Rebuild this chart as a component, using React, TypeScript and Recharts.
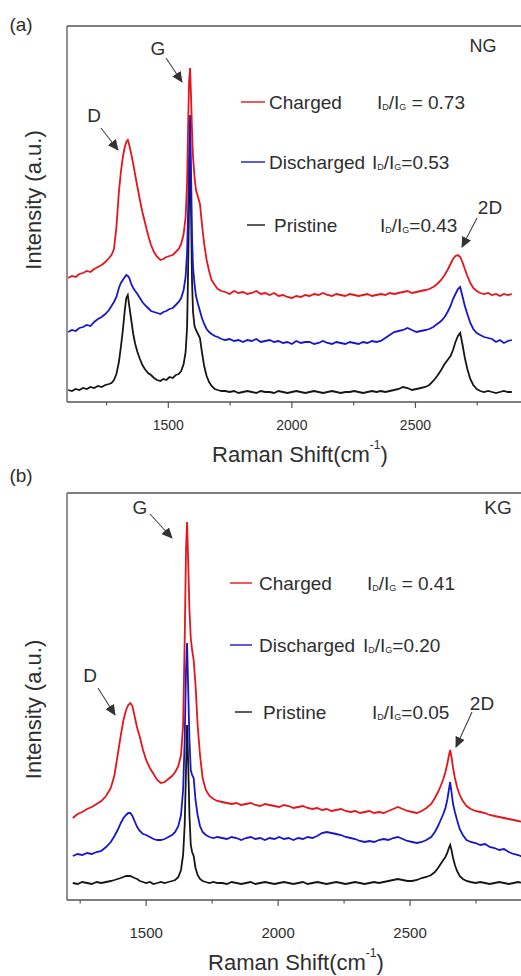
import React from "react";
import { LineChart, Line, XAxis, YAxis, Legend } from "recharts";

// (a) NG: Raman shift (cm-1) and intensities (a.u.)
const shiftA = [
  1095, 1110, 1125, 1140, 1155, 1170, 1185, 1200, 1215, 1230, 1245, 1260,
  1270, 1280, 1290, 1300, 1308, 1316, 1324, 1330, 1336, 1342, 1350, 1358,
  1366, 1375, 1385, 1395, 1405, 1418, 1430, 1442, 1455, 1468, 1480, 1492,
  1505, 1518, 1530, 1542, 1552, 1562, 1570, 1576, 1580, 1584, 1588, 1592,
  1596, 1600, 1606, 1612, 1620, 1628, 1636, 1645, 1655, 1665, 1675, 1688,
  1700, 1715,
  1730, 1748, 1766, 1784, 1802, 1820, 1838, 1856, 1874, 1892, 1910, 1928,
  1946, 1964, 1982, 2000, 2018, 2036, 2054, 2072, 2090, 2108, 2126, 2144,
  2162, 2180, 2198, 2216, 2234, 2252, 2270, 2288, 2306, 2324, 2342, 2360,
  2378, 2396, 2414, 2432, 2450, 2468, 2486, 2504, 2522,
  2540, 2556, 2572, 2588, 2604, 2618, 2630, 2642, 2652, 2662, 2672, 2681,
  2690, 2700, 2710, 2722, 2734, 2748, 2762, 2778, 2794, 2810, 2826, 2842,
  2858, 2874, 2890,
];
const chargedA = [
  124, 126, 125, 128, 129, 131, 130, 133, 135, 137, 140, 144,
  147, 153, 175, 210, 230, 245, 255, 260, 262, 257, 248, 238,
  227, 215, 202, 190, 180, 167, 157, 150, 145, 142, 143, 145,
  146, 147, 150, 153, 158, 168, 185, 220, 275, 320, 334, 305,
  270, 245, 225, 212, 205, 198, 178, 158, 142, 131, 122, 117,
  113, 111,
  110, 108, 111, 109, 110, 108, 109, 111, 108, 109, 107, 109,
  106, 107, 105, 104, 106, 105, 107, 106, 108, 107, 109, 107,
  106, 108, 107, 106, 108, 107, 106, 107, 108, 106, 107, 108,
  107, 109, 108, 109, 110, 111, 109, 110, 111,
  112, 113, 115, 118, 122, 127, 132, 138, 143, 146, 147, 145,
  140, 133, 126, 119, 114, 111, 109, 108, 109, 107, 108, 106,
  108, 107, 108,
];
const dischargedA = [
  70, 72, 71, 74, 75, 77, 76, 80, 83, 85, 88, 92,
  96, 100, 105, 114, 119, 122, 125, 127, 126, 124, 118, 114,
  111, 108, 104, 100, 97, 94, 91, 90, 89, 88, 90, 91,
  93, 94, 97, 100, 104, 112, 125, 150, 190, 250, 287, 230,
  165, 135, 118, 106, 98, 91, 84, 78, 73, 70, 68, 66,
  65, 63,
  62, 63, 61, 62, 60, 62, 61, 63, 60, 61, 62, 60,
  61, 59, 60, 58, 61, 59, 60, 60, 58, 59, 61, 59,
  58, 60, 59, 58, 60, 59, 58, 60, 59, 61, 60, 61,
  64, 67, 70, 71, 72, 74, 72, 70, 71,
  72, 73, 75, 78, 81, 85, 90, 96, 103, 108, 113, 115,
  106, 96, 88, 79, 73, 69, 67, 65, 64, 63, 60, 62,
  59, 61, 62,
];
const pristineA = [
  12, 11, 13, 12, 14, 13, 15, 14, 16, 15, 17, 18,
  19, 22, 28, 40, 55, 72, 92, 104, 107, 96, 82, 68,
  58, 50, 43, 37, 33, 29, 27, 24, 22, 21, 23, 22,
  25, 24, 27, 28, 31, 38, 50, 75, 130, 200, 252, 190,
  120, 90, 76, 72, 68, 64, 50, 36, 26, 20, 16, 13,
  12, 11,
  11, 10, 11, 9, 10, 11, 10, 9, 11, 10, 10, 9,
  11, 10, 9, 10, 11, 10, 9, 10, 11, 10, 9, 10,
  11, 10, 9, 10, 10, 11, 10, 9, 10, 11, 10, 11,
  10, 11, 12, 13, 15, 14, 12, 13, 14,
  15, 17, 21, 26, 32, 38, 42, 46, 52, 60, 66, 69,
  58, 44, 33, 23, 17, 13, 11, 10, 11, 10, 9, 10,
  11, 10, 10,
];
const ratiosA = ["0.73", "0.53", "0.43"];

// (b) KG
const shiftB = [
  1222, 1240, 1258, 1276, 1294, 1312, 1330, 1348, 1366, 1380,
  1392, 1404, 1414, 1424, 1432, 1440, 1448, 1456, 1466, 1476,
  1488, 1500, 1514, 1528, 1542, 1556, 1570, 1584, 1598, 1610,
  1622, 1632, 1640, 1646, 1651, 1655, 1659, 1664, 1669, 1674,
  1680, 1687, 1695, 1704, 1714, 1726, 1740, 1755, 1770,
  1788, 1806, 1824, 1842, 1860, 1878, 1896, 1914, 1932, 1950,
  1968, 1986, 2004, 2022, 2040, 2058, 2076, 2094, 2112, 2130,
  2148, 2166, 2184, 2202, 2220, 2238, 2256, 2274, 2292, 2310,
  2328, 2346, 2364, 2382, 2400, 2418, 2436, 2454, 2472, 2490,
  2508, 2526, 2544, 2562, 2580,
  2594, 2606, 2616, 2626, 2634, 2641, 2647, 2652, 2657, 2663,
  2670, 2678, 2688, 2700, 2714, 2730, 2748, 2766, 2784, 2802,
  2820, 2838, 2856, 2874, 2892, 2910, 2928, 2946,
];
const chargedB = [
  82, 86, 88, 91, 93, 96, 99, 104, 112, 125,
  145, 165, 180, 190, 195, 197, 194, 184, 172, 163,
  150, 140, 132, 126, 120, 117, 118, 121, 124, 128,
  134, 145, 175, 260, 350, 378, 340, 290, 262, 250,
  240, 215, 175, 145, 122, 110, 104, 101, 99,
  98, 97, 96, 97, 95, 96, 97, 95, 94, 96,
  95, 94, 93, 95, 94, 92, 93, 94, 92, 91,
  92, 90, 91, 89, 90, 91, 89, 88, 89, 87,
  88, 89, 87, 88, 87, 89, 91, 93, 91, 89,
  88, 87, 89, 92, 96,
  102, 108, 114, 121, 128, 136, 144, 150, 143, 132,
  122, 113, 105, 99, 94, 91, 89, 88, 87, 85,
  84, 83, 82, 81, 80, 79, 78, 77,
];
const dischargedB = [
  44, 46, 45, 47, 46, 48, 49, 53, 58, 64,
  70, 77, 82, 85, 87, 87, 84, 79, 73, 69,
  66, 65, 63, 61, 60, 60, 61, 63, 65, 68,
  74, 85, 110, 160, 230, 257, 215, 160, 130, 125,
  122, 100, 85, 74, 68, 65, 63, 62, 63,
  62, 61, 63, 62, 60, 62, 63, 61, 62, 60,
  62, 61, 63, 61, 62, 60, 62, 61, 63, 62,
  64, 67, 68, 67, 66, 65, 63, 62, 61, 59,
  58, 59, 58, 60, 61, 60, 62, 63, 61, 59,
  58, 57, 58, 60, 63,
  68, 74, 80, 86, 92, 100, 110, 118, 108, 96,
  88, 80, 71, 65, 60, 58, 57, 55, 56, 53,
  52, 50, 51, 48, 46, 45, 43, 42,
];
const pristineB = [
  17, 16, 18, 17, 16, 18, 17, 18, 19, 20,
  21, 22, 23, 24, 24, 24, 23, 22, 21, 19,
  18, 17, 18, 16, 17, 18, 17, 18, 19, 20,
  23, 30, 45, 75, 130, 175, 140, 85, 55, 48,
  44, 32, 25, 21, 19, 18, 17, 18, 17,
  17, 16, 18, 17, 16, 17, 18, 16, 17, 18,
  17, 16, 17, 18, 17, 16, 17, 18, 16, 17,
  18, 17, 16, 17, 18, 17, 16, 17, 18, 17,
  16, 17, 18, 17, 18, 19, 20, 21, 20, 19,
  19, 20, 22, 23, 25,
  28, 32, 36, 40, 43, 47, 52, 55, 50, 42,
  35, 29, 24, 21, 19, 18, 17, 18, 17, 16,
  17, 18, 17, 16, 17, 18, 17, 16,
];
const ratiosB = ["0.41", "0.20", "0.05"];

const legendOrder = ["charged", "discharged", "pristine"];
const drawOrder = ["pristine", "discharged", "charged"];
const seriesNames: Record<string, string> = {
  charged: "Charged",
  discharged: "Discharged",
  pristine: "Pristine",
};
const seriesColors: Record<string, string> = {
  charged: "#e6141b",
  discharged: "#1717c9",
  pristine: "#161616",
};
const tickValues = [1250, 1500, 1750, 2000, 2250, 2500, 2750];
const majorTicks = [1500, 2000, 2500];

const FONT = '"Liberation Sans", Arial, sans-serif';
const INK = "#2e2e2e";
const AXIS = "#555";

const buildRows = (x: number[], c: number[], d: number[], p: number[]) =>
  x.map((v, i) => ({ x: v, charged: c[i], discharged: d[i], pristine: p[i] }));

const dataA = buildRows(shiftA, chargedA, dischargedA, pristineA);
const dataB = buildRows(shiftB, chargedB, dischargedB, pristineB);

// axes are 1px thick/wide, so margins are 1px less than the plot edges
const panelA = {
  top: 0,
  width: 560,
  height: 470,
  margin: { top: 25, right: 20, bottom: 67, left: 66 },
  domain: [1090, 3000],
  yMax: 376,
  tickGap: 23,
  tickFont: 14,
  titleDx: 233,
  titleDy: 52,
  titleFont: 22,
  yTitleDy: -14,
  legend: [
    { x1: 241, x2: 265, text: 269, ratio: 377, eq: " = ", y: 102 },
    { x1: 241, x2: 265, text: 269, ratio: 372, eq: "=", y: 162 },
    { x1: 247, x2: 265, text: 274, ratio: 380, eq: "=", y: 225 },
  ],
};

const panelB = {
  top: 470,
  width: 560,
  height: 506,
  margin: { top: 22, right: 17, bottom: 75, left: 66 },
  domain: [1200, 3000],
  yMax: 407,
  tickGap: 32,
  tickFont: 15,
  titleDx: 229,
  titleDy: 62,
  titleFont: 22,
  yTitleDy: 13,
  legend: [
    { x1: 230, x2: 252, text: 259, ratio: 367, eq: " = ", y: 113 },
    { x1: 230, x2: 252, text: 259, ratio: 363, eq: "=", y: 175 },
    { x1: 235, x2: 252, text: 263, ratio: 372, eq: "=", y: 242 },
  ],
};

function RamanTick(props: any) {
  const { x, y, payload, gap, size } = props;
  const major = majorTicks.includes(payload.value);
  return (
    <g>
      <line x1={x} x2={x} y1={y} y2={y + (major ? 6 : 3.5)} stroke={AXIS} strokeWidth={1.2} />
      {major && (
        <text x={x} y={y + gap} textAnchor="middle" dominantBaseline="central" fontSize={size} fontFamily={FONT} fill={INK}>
          {payload.value}
        </text>
      )}
    </g>
  );
}

function XTitle(props: any) {
  const { viewBox, dx, dy, size } = props;
  return (
    <text x={viewBox.x + dx} y={viewBox.y + dy} textAnchor="middle" dominantBaseline="central" fontSize={size} fontFamily={FONT} fill={INK}>
      Raman Shift(cm
      <tspan dy={-size * 0.42} fontSize={size * 0.55}>-1</tspan>
      <tspan dy={size * 0.42}>)</tspan>
    </text>
  );
}

function YTitle(props: any) {
  const { viewBox, dy, size } = props;
  const x = viewBox.x + viewBox.width - 34;
  const y = viewBox.y + viewBox.height / 2 + dy;
  return (
    <text transform={`translate(${x},${y}) rotate(-90)`} textAnchor="middle" dominantBaseline="central" fontSize={size} fontFamily={FONT} fill={INK}>
      Intensity (a.u.)
    </text>
  );
}

function RamanLegend(props: any) {
  const { payload, rows, ratios, width, height } = props;
  return (
    <svg width={width} height={height} style={{ display: "block", overflow: "visible" }}>
      {(payload || []).map((entry: any) => {
        const i = legendOrder.indexOf(entry.dataKey);
        if (i < 0) return null;
        const r = rows[i];
        return (
          <g key={entry.dataKey} fontFamily={FONT} fill={INK}>
            <line x1={r.x1} x2={r.x2} y1={r.y} y2={r.y} stroke={entry.color} strokeWidth={1.4} />
            <text x={r.text} y={r.y} dominantBaseline="central" fontSize={19}>
              {entry.value}
            </text>
            <text x={r.ratio} y={r.y} dominantBaseline="central" fontSize={19}>
              I<tspan fontSize={9} dy={5}>D</tspan>
              <tspan dy={-5}>/I</tspan>
              <tspan fontSize={9} dy={5}>G</tspan>
              <tspan dy={-5}>{r.eq + ratios[i]}</tspan>
            </text>
          </g>
        );
      })}
    </svg>
  );
}

function RamanPanel({ data, cfg, ratios }: any) {
  const axisLine = { stroke: AXIS, strokeWidth: 1.3 };
  return (
    <div style={{ position: "absolute", left: 0, top: cfg.top }}>
      <LineChart width={cfg.width} height={cfg.height} data={data} margin={cfg.margin}>
        <XAxis
          dataKey="x"
          type="number"
          domain={cfg.domain}
          ticks={tickValues}
          interval={0}
          height={1}
          tickSize={0}
          tickMargin={0}
          tickLine={false}
          axisLine={axisLine}
          tick={<RamanTick gap={cfg.tickGap} size={cfg.tickFont} />}
          label={<XTitle dx={cfg.titleDx} dy={cfg.titleDy} size={cfg.titleFont} />}
        />
        <XAxis
          xAxisId="top"
          orientation="top"
          dataKey="x"
          type="number"
          domain={cfg.domain}
          height={1}
          tick={false}
          tickLine={false}
          axisLine={axisLine}
        />
        <YAxis
          type="number"
          domain={[0, cfg.yMax]}
          width={1}
          tick={false}
          tickLine={false}
          axisLine={axisLine}
          label={<YTitle dy={cfg.yTitleDy} size={22} />}
        />
        <YAxis
          yAxisId="right"
          orientation="right"
          type="number"
          domain={[0, cfg.yMax]}
          width={1}
          tick={false}
          tickLine={false}
          axisLine={axisLine}
        />
        <Legend
          layout="vertical"
          align="center"
          verticalAlign="middle"
          wrapperStyle={{ left: 0, top: 0, width: cfg.width, height: cfg.height, pointerEvents: "none" }}
          content={<RamanLegend rows={cfg.legend} ratios={ratios} width={cfg.width} height={cfg.height} />}
        />
        {drawOrder.map((k) => (
          <Line
            key={k}
            type="linear"
            dataKey={k}
            name={seriesNames[k]}
            stroke={seriesColors[k]}
            strokeWidth={1.8}
            dot={false}
            isAnimationActive={false}
          />
        ))}
      </LineChart>
    </div>
  );
}

function Arrow({ from, to }: { from: number[]; to: number[] }) {
  return <line x1={from[0]} y1={from[1]} x2={to[0]} y2={to[1]} stroke="#444" strokeWidth={1.1} markerEnd="url(#tip)" />;
}

function Annotations() {
  const t = { fontFamily: FONT, fill: INK, dominantBaseline: "central" as const, textAnchor: "middle" as const };
  return (
    <svg width={521} height={976} style={{ position: "absolute", left: 0, top: 0, pointerEvents: "none" }}>
      <defs>
        <marker id="tip" markerWidth={11} markerHeight={10} refX={10} refY={5} orient="auto" markerUnits="userSpaceOnUse">
          <path d="M0,0 L11,5 L0,10 z" fill="#333" />
        </marker>
      </defs>
      <text x={21} y={24} fontSize={19} {...t}>(a)</text>
      <text x={483} y={46} fontSize={18} {...t}>NG</text>
      <text x={158} y={48} fontSize={19} {...t}>G</text>
      <Arrow from={[166, 58]} to={[182, 82]} />
      <text x={94} y={115} fontSize={19} {...t}>D</text>
      <Arrow from={[101, 128]} to={[118, 150]} />
      <text x={490} y={207} fontSize={19} {...t}>2D</text>
      <Arrow from={[477, 218]} to={[462, 247]} />

      <text x={21} y={475} fontSize={19} {...t}>(b)</text>
      <text x={498} y={507} fontSize={19} {...t}>KG</text>
      <text x={140} y={507} fontSize={19} {...t}>G</text>
      <Arrow from={[150, 514]} to={[172, 538]} />
      <text x={90} y={675} fontSize={19} {...t}>D</text>
      <Arrow from={[98, 688]} to={[115, 715]} />
      <text x={482} y={703} fontSize={19} {...t}>2D</text>
      <Arrow from={[472, 712]} to={[456, 747]} />
    </svg>
  );
}

export default function App() {
  return (
    <div
      style={{
        position: "absolute",
        left: 0,
        top: 0,
        width: 521,
        height: 976,
        overflow: "hidden",
        background: "#fff",
        fontFamily: FONT,
      }}
    >
      <RamanPanel data={dataA} cfg={panelA} ratios={ratiosA} />
      <RamanPanel data={dataB} cfg={panelB} ratios={ratiosB} />
      <Annotations />
    </div>
  );
}
